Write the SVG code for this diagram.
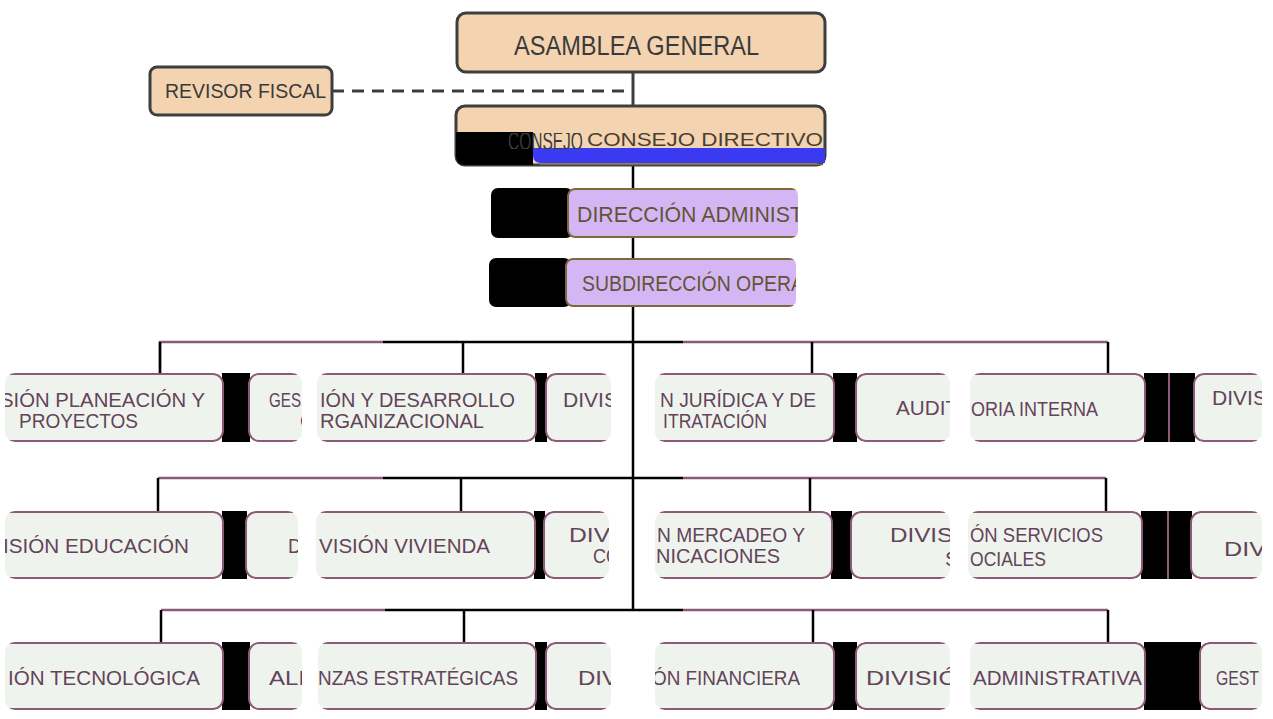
<svg xmlns="http://www.w3.org/2000/svg" width="1273" height="719" viewBox="0 0 1273 719">
<style>
.pe{fill:#f3d3b0;stroke:#3e3e3e;stroke-width:3}
.pu{fill:#d5b6f4;stroke:#7a6a3a;stroke-width:2}
.bx{fill:#eff3ee;stroke:#8c5a78;stroke-width:2}
.bk{fill:#000}
.t{font-family:"Liberation Sans",Arial,sans-serif}
.tr{fill:#634459;font-size:20.5px}
.tp{fill:#5f5536;font-size:22px}
.td{fill:#3a3a3a}
.ln{stroke:#000;stroke-width:2.5;fill:none}
.lm{stroke:#8c5a78;stroke-width:2.5;fill:none}
.ld{stroke:#3e3e3e;stroke-width:3;fill:none}
</style>
<defs>
<clipPath id="cDir"><rect x="567" y="188" width="231" height="50" rx="7"/></clipPath>
<clipPath id="cSub"><rect x="565" y="258" width="231" height="49" rx="7"/></clipPath>
<clipPath id="cBig"><rect x="506" y="133" width="78" height="16"/></clipPath>
<clipPath id="cSmall"><rect x="584" y="130" width="241" height="18"/></clipPath>
<clipPath id="c1A"><rect x="5" y="373" width="219" height="69" rx="10"/></clipPath>
<clipPath id="c1B"><rect x="248" y="373" width="54" height="69" rx="10"/></clipPath>
<clipPath id="c1C"><rect x="317" y="373" width="220" height="69" rx="10"/></clipPath>
<clipPath id="c1D"><rect x="545" y="373" width="66" height="69" rx="10"/></clipPath>
<clipPath id="c1E"><rect x="655" y="373" width="180" height="69" rx="10"/></clipPath>
<clipPath id="c1F"><rect x="855" y="373" width="95" height="69" rx="10"/></clipPath>
<clipPath id="c1G"><rect x="970" y="373" width="176" height="69" rx="10"/></clipPath>
<clipPath id="c1H"><rect x="1193" y="373" width="69" height="69" rx="10"/></clipPath>
<clipPath id="c2A"><rect x="5" y="511" width="219" height="68" rx="10"/></clipPath>
<clipPath id="c2B"><rect x="245" y="511" width="53" height="68" rx="10"/></clipPath>
<clipPath id="c2C"><rect x="316" y="511" width="220" height="68" rx="10"/></clipPath>
<clipPath id="c2D"><rect x="543" y="511" width="66" height="68" rx="10"/></clipPath>
<clipPath id="c2E"><rect x="655" y="511" width="178" height="68" rx="10"/></clipPath>
<clipPath id="c2F"><rect x="850" y="511" width="100" height="68" rx="10"/></clipPath>
<clipPath id="c2G"><rect x="968" y="511" width="175" height="68" rx="10"/></clipPath>
<clipPath id="c2H"><rect x="1190" y="511" width="72" height="68" rx="10"/></clipPath>
<clipPath id="c3A"><rect x="5" y="642" width="219" height="68" rx="10"/></clipPath>
<clipPath id="c3B"><rect x="248" y="642" width="54" height="68" rx="10"/></clipPath>
<clipPath id="c3C"><rect x="318" y="642" width="219" height="68" rx="10"/></clipPath>
<clipPath id="c3D"><rect x="545" y="642" width="66" height="68" rx="10"/></clipPath>
<clipPath id="c3E"><rect x="655" y="642" width="180" height="68" rx="10"/></clipPath>
<clipPath id="c3F"><rect x="855" y="642" width="95" height="68" rx="10"/></clipPath>
<clipPath id="c3G"><rect x="970" y="642" width="176" height="68" rx="10"/></clipPath>
<clipPath id="c3H"><rect x="1199" y="642" width="63" height="68" rx="10"/></clipPath>
</defs>

<g id="connectors">
<line class="ld" x1="633" y1="72" x2="633" y2="107"/>
<line class="ld" x1="332" y1="91" x2="633" y2="91" stroke-dasharray="12 8"/>
<line class="ln" x1="633" y1="165" x2="633" y2="610"/>
<path class="lm" d="M160,373 V342 H383"/><path class="ln" d="M383,342 H683"/><path class="lm" d="M683,342 H1108"/>
<path class="ln" d="M160,342 V373 M463,342 V373 M812,342 V373 M1108,342 V373"/>
<path class="lm" d="M158,478 H383"/><path class="ln" d="M383,478 H683"/><path class="lm" d="M683,478 H1106"/>
<path class="ln" d="M158,478 V512 M461,478 V512 M810,478 V512 M1106,478 V512"/>
<path class="lm" d="M161,610 H385"/><path class="ln" d="M385,610 H683"/><path class="lm" d="M683,610 H1108"/>
<path class="ln" d="M161,610 V642 M464,610 V642 M813,610 V642 M1108,610 V642"/>
</g>

<g id="asamblea">
<rect class="pe" x="457" y="13" width="368" height="59" rx="9"/>
<text class="t td" x="514" y="55" font-size="27" textLength="245" lengthAdjust="spacingAndGlyphs">ASAMBLEA GENERAL</text>
</g>

<g id="revisor">
<rect class="pe" x="150" y="67" width="182" height="48" rx="7"/>
<text class="t td" x="165" y="98" font-size="21" textLength="161" lengthAdjust="spacingAndGlyphs">REVISOR FISCAL</text>
</g>

<g id="consejo">
<rect class="pe" x="456" y="106" width="369" height="59" rx="9"/>
<path class="bk" d="M456,132 H533 V165 H465 Q456,165 456,156 Z"/>
<path fill="#3a3af2" d="M533,148 H825 V163 H541 Q533,163 533,155 Z"/>
<line x1="540" y1="164.5" x2="823" y2="164.5" stroke="#7a6a3a" stroke-width="1.5"/>
<g clip-path="url(#cBig)">
<text class="t td" x="0" y="0" font-size="15.5" transform="translate(508,150) scale(1,1.7)">CONSEJO</text>
</g>
<text class="t" x="587" y="146" font-size="18" fill="#4a4030" textLength="236" lengthAdjust="spacingAndGlyphs" clip-path="url(#cSmall)">CONSEJO DIRECTIVO</text>
</g>

<g id="direccion">
<rect class="bk" x="491" y="188" width="82" height="50" rx="7"/>
<g clip-path="url(#cDir)">
<rect class="pu" x="568" y="189" width="240" height="48" rx="7"/>
<text class="t tp" x="577" y="222" textLength="226" lengthAdjust="spacingAndGlyphs">DIRECCIÓN ADMINIST</text>
</g>
</g>

<g id="subdireccion">
<rect class="bk" x="489" y="258" width="82" height="49" rx="7"/>
<g clip-path="url(#cSub)">
<rect class="pu" x="566" y="259" width="240" height="47" rx="7"/>
<text class="t tp" x="582" y="291" textLength="222" lengthAdjust="spacingAndGlyphs">SUBDIRECCIÓN OPERA</text>
</g>
</g>

<g id="row1-blocks">
<rect class="bk" x="222" y="373" width="28" height="69"/>
<rect class="bk" x="535" y="373" width="12" height="69"/>
<rect class="bk" x="833" y="373" width="24" height="69"/>
<rect class="bk" x="1144" y="373" width="51" height="69"/>
<line x1="1169" y1="373" x2="1169" y2="442" stroke="#8c5a78" stroke-width="2"/>
</g>
<g id="r1a" clip-path="url(#c1A)"><rect class="bx" x="-7" y="374" width="230" height="67" rx="10"/>
<text class="t tr" x="0" y="407" textLength="205" lengthAdjust="spacingAndGlyphs">SIÓN PLANEACIÓN Y</text>
<text class="t tr" x="19" y="428" textLength="119" lengthAdjust="spacingAndGlyphs">PROYECTOS</text></g>
<g id="r1b" clip-path="url(#c1B)"><rect class="bx" x="249" y="374" width="65" height="67" rx="10"/>
<text class="t tr" x="269" y="407" textLength="32" lengthAdjust="spacingAndGlyphs">GES</text>
<text class="t tr" x="300" y="428">O</text></g>
<g id="r1c" clip-path="url(#c1C)"><rect class="bx" x="305" y="374" width="231" height="67" rx="10"/>
<text class="t tr" x="320" y="407" textLength="195" lengthAdjust="spacingAndGlyphs">IÓN Y DESARROLLO</text>
<text class="t tr" x="320" y="428" textLength="164" lengthAdjust="spacingAndGlyphs">RGANIZACIONAL</text></g>
<g id="r1d" clip-path="url(#c1D)"><rect class="bx" x="546" y="374" width="77" height="67" rx="10"/>
<text class="t tr" x="563" y="407" textLength="55" lengthAdjust="spacingAndGlyphs">DIVIS</text></g>
<g id="r1e" clip-path="url(#c1E)"><rect class="bx" x="643" y="374" width="191" height="67" rx="10"/>
<text class="t tr" x="660" y="407" textLength="156" lengthAdjust="spacingAndGlyphs">N JURÍDICA Y DE</text>
<text class="t tr" x="663" y="428" textLength="104" lengthAdjust="spacingAndGlyphs">ITRATACIÓN</text></g>
<g id="r1f" clip-path="url(#c1F)"><rect class="bx" x="856" y="374" width="106" height="67" rx="10"/>
<text class="t tr" x="896" y="415" textLength="62" lengthAdjust="spacingAndGlyphs">AUDIT</text></g>
<g id="r1g" clip-path="url(#c1G)"><rect class="bx" x="958" y="374" width="187" height="67" rx="10"/>
<text class="t tr" x="971" y="416" textLength="127" lengthAdjust="spacingAndGlyphs">ORIA INTERNA</text></g>
<g id="r1h" clip-path="url(#c1H)"><rect class="bx" x="1194" y="374" width="80" height="67" rx="10"/>
<text class="t tr" x="1212" y="405" textLength="55" lengthAdjust="spacingAndGlyphs">DIVIS</text></g>

<g id="row2-blocks">
<rect class="bk" x="222" y="511" width="25" height="68"/>
<rect class="bk" x="534" y="511" width="11" height="68"/>
<rect class="bk" x="831" y="511" width="21" height="68"/>
<rect class="bk" x="1141" y="511" width="51" height="68"/>
<line x1="1168" y1="511" x2="1168" y2="579" stroke="#8c5a78" stroke-width="2"/>
</g>
<g id="r2a" clip-path="url(#c2A)"><rect class="bx" x="-7" y="512" width="230" height="66" rx="10"/>
<text class="t tr" x="3" y="553" textLength="186" lengthAdjust="spacingAndGlyphs">ISIÓN EDUCACIÓN</text></g>
<g id="r2b" clip-path="url(#c2B)"><rect class="bx" x="246" y="512" width="64" height="66" rx="10"/>
<text class="t tr" x="288" y="553" textLength="19" lengthAdjust="spacingAndGlyphs">DI</text></g>
<g id="r2c" clip-path="url(#c2C)"><rect class="bx" x="304" y="512" width="231" height="66" rx="10"/>
<text class="t tr" x="319" y="553" textLength="171" lengthAdjust="spacingAndGlyphs">VISIÓN VIVIENDA</text></g>
<g id="r2d" clip-path="url(#c2D)"><rect class="bx" x="544" y="512" width="77" height="66" rx="10"/>
<text class="t tr" x="569" y="542" textLength="48" lengthAdjust="spacingAndGlyphs">DIVI</text>
<text class="t tr" x="593" y="563" textLength="27" lengthAdjust="spacingAndGlyphs">CO</text></g>
<g id="r2e" clip-path="url(#c2E)"><rect class="bx" x="643" y="512" width="189" height="66" rx="10"/>
<text class="t tr" x="657" y="542" textLength="148" lengthAdjust="spacingAndGlyphs">N MERCADEO Y</text>
<text class="t tr" x="656" y="563" textLength="124" lengthAdjust="spacingAndGlyphs">NICACIONES</text></g>
<g id="r2f" clip-path="url(#c2F)"><rect class="bx" x="851" y="512" width="111" height="66" rx="10"/>
<text class="t tr" x="890" y="542" textLength="70" lengthAdjust="spacingAndGlyphs">DIVISI</text>
<text class="t tr" x="945" y="566">S</text></g>
<g id="r2g" clip-path="url(#c2G)"><rect class="bx" x="956" y="512" width="186" height="66" rx="10"/>
<text class="t tr" x="970" y="542" textLength="133" lengthAdjust="spacingAndGlyphs">ÓN SERVICIOS</text>
<text class="t tr" x="970" y="566" textLength="76" lengthAdjust="spacingAndGlyphs">OCIALES</text></g>
<g id="r2h" clip-path="url(#c2H)"><rect class="bx" x="1191" y="512" width="83" height="66" rx="10"/>
<text class="t tr" x="1224" y="556" textLength="42" lengthAdjust="spacingAndGlyphs">DIV</text></g>

<g id="row3-blocks">
<rect class="bk" x="222" y="642" width="28" height="68"/>
<rect class="bk" x="535" y="642" width="12" height="68"/>
<rect class="bk" x="833" y="642" width="24" height="68"/>
<rect class="bk" x="1144" y="642" width="57" height="68"/>
</g>
<g id="r3a" clip-path="url(#c3A)"><rect class="bx" x="-7" y="643" width="230" height="66" rx="10"/>
<text class="t tr" x="8" y="685" textLength="192" lengthAdjust="spacingAndGlyphs">IÓN TECNOLÓGICA</text></g>
<g id="r3b" clip-path="url(#c3B)"><rect class="bx" x="249" y="643" width="65" height="66" rx="10"/>
<text class="t tr" x="269" y="685" textLength="36" lengthAdjust="spacingAndGlyphs">ALI</text></g>
<g id="r3c" clip-path="url(#c3C)"><rect class="bx" x="306" y="643" width="230" height="66" rx="10"/>
<text class="t tr" x="318" y="685" textLength="200" lengthAdjust="spacingAndGlyphs">NZAS ESTRATÉGICAS</text></g>
<g id="r3d" clip-path="url(#c3D)"><rect class="bx" x="546" y="643" width="77" height="66" rx="10"/>
<text class="t tr" x="578" y="685" textLength="40" lengthAdjust="spacingAndGlyphs">DIV</text></g>
<g id="r3e" clip-path="url(#c3E)"><rect class="bx" x="643" y="643" width="191" height="66" rx="10"/>
<text class="t tr" x="652" y="685" textLength="148" lengthAdjust="spacingAndGlyphs">ÓN FINANCIERA</text></g>
<g id="r3f" clip-path="url(#c3F)"><rect class="bx" x="856" y="643" width="106" height="66" rx="10"/>
<text class="t tr" x="866" y="685" textLength="92" lengthAdjust="spacingAndGlyphs">DIVISIÓ</text></g>
<g id="r3g" clip-path="url(#c3G)"><rect class="bx" x="958" y="643" width="187" height="66" rx="10"/>
<text class="t tr" x="973" y="685" textLength="169" lengthAdjust="spacingAndGlyphs">ADMINISTRATIVA</text></g>
<g id="r3h" clip-path="url(#c3H)"><rect class="bx" x="1200" y="643" width="74" height="66" rx="10"/>
<text class="t tr" x="1216" y="685" font-size="18" textLength="43" lengthAdjust="spacingAndGlyphs">GEST</text></g>
</svg>
